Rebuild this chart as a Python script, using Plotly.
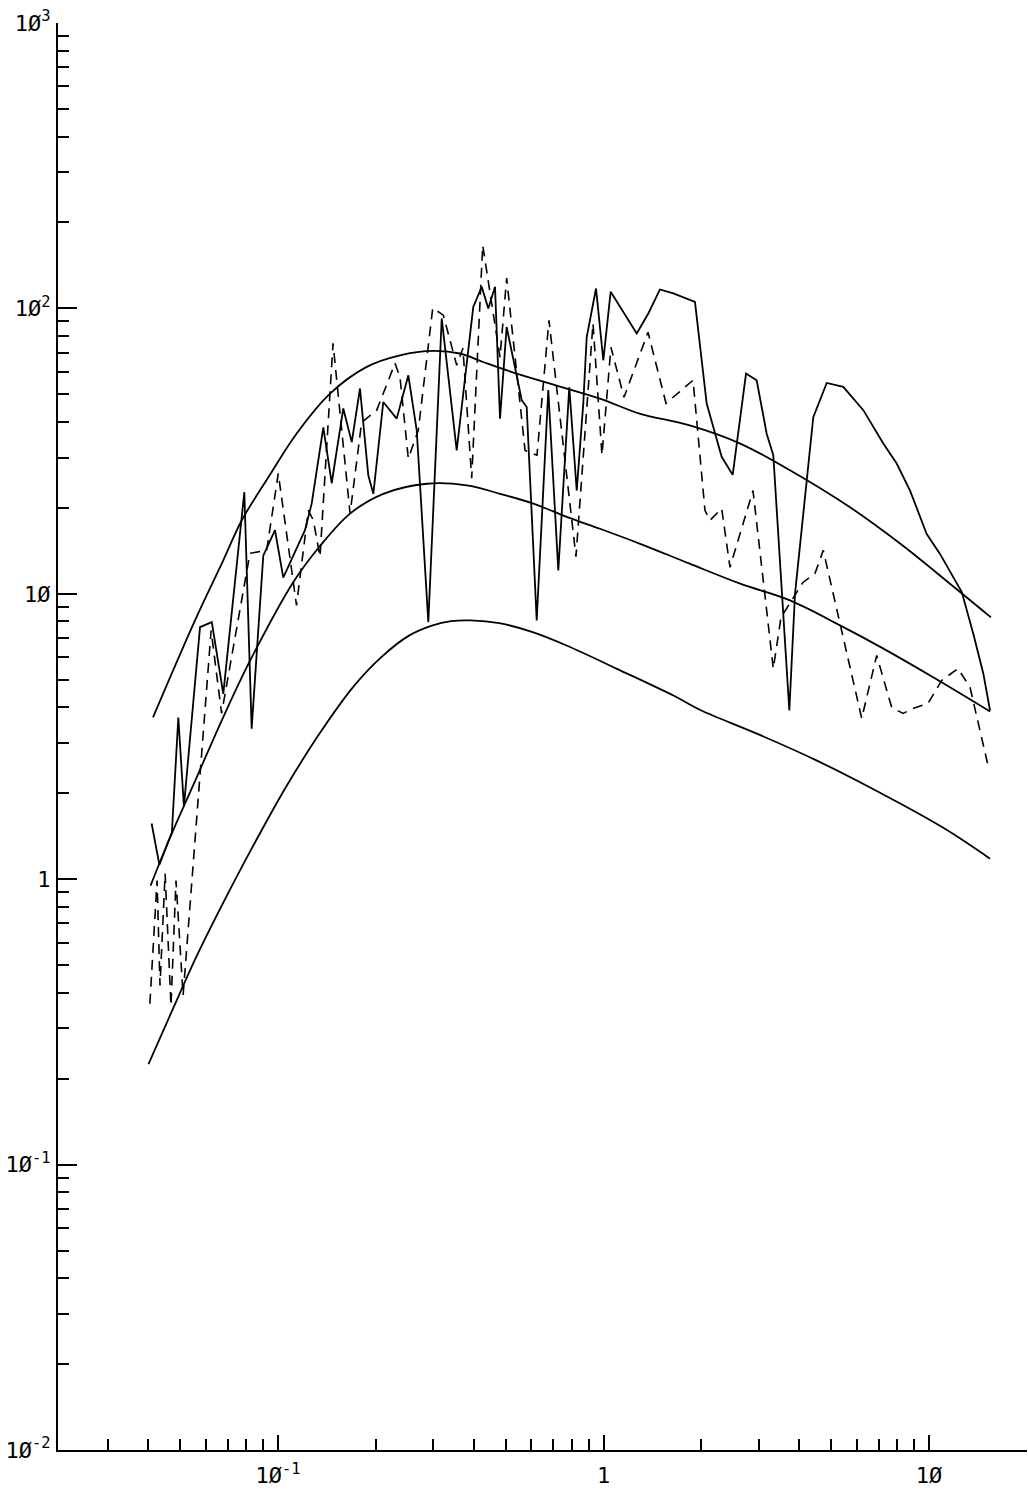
import plotly.graph_objects as go

# ---- smooth reference curves ----
upper_x = [0.0413, 0.0556, 0.0679, 0.0774, 0.0934, 0.114, 0.1445, 0.1873, 0.237, 0.300, 0.362, 0.427,
           0.541, 0.685, 0.975, 1.29, 1.84, 2.63, 3.74, 5.72, 8.15, 11.6, 15.5]
upper_y = [3.69, 8.07, 13.1, 18.1, 25.6, 36.4, 50.3, 62.4, 68.5, 71.0, 69.5, 64.9,
           59.1, 54.5, 48.3, 42.8, 38.9, 33.6, 27.1, 20.1, 15.0, 10.85, 8.27]

middle_x = [0.0406, 0.0466, 0.0563, 0.0679, 0.082, 0.1114, 0.1346, 0.1665, 0.2106, 0.286, 0.380, 0.481,
            0.609, 0.771, 0.975, 1.29, 1.84, 2.63, 3.74, 5.33, 7.22, 10.3, 15.4]
middle_y = [0.950, 1.40, 2.28, 3.70, 5.82, 10.98, 14.7, 19.1, 22.4, 24.3, 24.0, 22.4,
            20.7, 18.6, 16.9, 15.0, 12.75, 10.85, 9.48, 7.75, 6.44, 5.10, 3.87]

lower_x = [0.0400, 0.0478, 0.0560, 0.0684, 0.0833, 0.1057, 0.134, 0.170, 0.2077, 0.2533, 0.297, 0.340,
           0.392, 0.478, 0.606, 0.770, 1.10, 1.64, 2.0, 2.97, 4.41, 6.57, 11.0, 15.4]
lower_y = [0.225, 0.356, 0.532, 0.841, 1.29, 2.10, 3.23, 4.71, 6.0, 7.15, 7.74, 8.02,
           8.07, 7.89, 7.34, 6.59, 5.46, 4.40, 3.90, 3.23, 2.64, 2.10, 1.52, 1.18]

# ---- jagged solid spectrum ----
solid_x = [0.0409, 0.0432, 0.0472, 0.0494, 0.0514, 0.0576, 0.0626, 0.0679, 0.0788, 0.0830,
           0.0901, 0.0979, 0.1038, 0.121, 0.1269, 0.1378, 0.1462, 0.1587, 0.1685, 0.1786,
           0.1894, 0.1963, 0.2106, 0.2316, 0.2514, 0.2668, 0.2896, 0.3184, 0.354, 0.398,
           0.4225, 0.4427, 0.4642, 0.4809, 0.504, 0.5608, 0.5808, 0.6234, 0.6767, 0.7263,
           0.785, 0.8274, 0.8667, 0.888, 0.9485, 0.9986, 1.052, 1.265, 1.373, 1.491,
           1.639, 1.910, 2.075, 2.307, 2.494, 2.741, 2.955, 3.172, 3.324, 3.723,
           3.876, 4.411, 4.851, 5.454, 6.284, 7.238, 7.958, 8.744, 9.84, 10.81,
           12.61, 13.68, 14.69, 15.40]
solid_y = [1.567, 1.125, 1.457, 3.687, 1.797, 7.64, 7.96, 4.46, 22.7, 3.37,
           13.6, 16.7, 11.4, 16.7, 20.7, 38.3, 24.4, 44.6, 34.0, 52.4,
           26.0, 22.4, 47.0, 41.1, 58.3, 37.4, 7.96, 92.2, 31.8, 101.2,
           119.0, 99.9, 119.0, 41.1, 86.1, 47.7, 45.1, 8.07, 51.7, 12.08,
           52.9, 23.0, 46.4, 79.4, 117.4, 65.8, 114.3, 81.7, 96.0, 116.5,
           112.8, 105.4, 46.4, 30.2, 26.1, 59.1, 56.0, 36.4, 30.6, 3.90,
           10.0, 41.6, 54.8, 53.1, 44.0, 33.6, 28.6, 23.0, 16.2, 13.8,
           10.14, 7.25, 5.25, 3.90]

# ---- jagged dashed spectrum ----
dash_x = [0.0404, 0.0425, 0.0434, 0.0450, 0.0469, 0.0486, 0.0511, 0.0623, 0.0671, 0.082,
          0.0923, 0.1002, 0.114, 0.1239, 0.1284, 0.1346, 0.1476, 0.1665, 0.1807, 0.2011,
          0.2288, 0.237, 0.2514, 0.2698, 0.2988, 0.322, 0.354, 0.370, 0.3936, 0.4255,
          0.4809, 0.504, 0.5741, 0.6248, 0.680, 0.823, 0.9284, 0.9894, 1.054, 1.156,
          1.370, 1.556, 1.884, 2.050, 2.124, 2.307, 2.447, 2.879, 3.324, 3.51,
          4.10, 4.465, 4.734, 6.213, 6.908, 7.68, 8.32, 8.93, 9.93, 10.94,
          12.28, 13.37, 15.21]
dash_y = [0.366, 0.989, 0.424, 1.046, 0.360, 0.989, 0.391, 7.44, 3.81, 13.86,
          14.2, 26.4, 9.11, 19.6, 18.1, 13.5, 75.5, 19.1, 39.9, 44.0,
          64.2, 57.4, 29.8, 37.4, 100.2, 94.7, 63.2, 72.5, 25.4, 166.5,
          67.4, 127.6, 31.8, 30.6, 90.9, 13.5, 88.7, 30.6, 73.1, 48.8,
          82.5, 46.5, 56.0, 19.6, 18.1, 19.9, 12.38, 23.0, 5.47, 8.27,
          10.96, 11.79, 14.2, 3.66, 6.08, 4.0, 3.81, 3.96, 4.13, 4.97,
          5.47, 4.70, 2.48]

# ---- axis ticks ----
x_major_vals = [0.1, 1, 10]
x_major_text = ["1Ø<sup>-1</sup>", "1", "1Ø"]
x_minor_vals = [0.03, 0.04, 0.05, 0.06, 0.07, 0.08, 0.09, 0.2, 0.3, 0.4, 0.5, 0.6, 0.7, 0.8, 0.9,
                2, 3, 4, 5, 6, 7, 8, 9, 20]

y_major_vals = [0.01, 0.1, 1, 10, 100, 1000]
y_major_text = ["1Ø<sup>-2</sup>", "1Ø<sup>-1</sup>", "1", "1Ø", "1Ø<sup>2</sup>", "1Ø<sup>3</sup>"]
y_minor_vals = [m * d for d in [0.01, 0.1, 1, 10, 100] for m in [2, 3, 4, 5, 6, 7, 8, 9]]

line_style = dict(color="black", width=1.8)

fig = go.Figure()
for xs, ys in [(upper_x, upper_y), (middle_x, middle_y), (lower_x, lower_y)]:
    fig.add_trace(go.Scatter(x=xs, y=ys, mode="lines",
                             line=dict(line_style, shape="spline", smoothing=1.0)))
fig.add_trace(go.Scatter(x=solid_x, y=solid_y, mode="lines", line=line_style))
fig.add_trace(go.Scatter(x=dash_x, y=dash_y, mode="lines",
                         line=dict(color="black", width=1.6, dash="10px,7px")))

tick_font = dict(family="DejaVu Sans Mono", size=22, color="black")

fig.update_layout(
    width=1028, height=1491,
    margin=dict(l=58, r=1, t=23, b=41),
    paper_bgcolor="white", plot_bgcolor="white",
    showlegend=False,
    xaxis=dict(
        type="log", range=[-1.6759, 1.3011], autorange=False,
        showline=True, linecolor="black", linewidth=2, mirror=False,
        showgrid=False, zeroline=False,
        ticks="inside", ticklen=15, tickwidth=1.5, tickcolor="black",
        tickmode="array", tickvals=x_major_vals, ticktext=x_major_text,
        minor=dict(tickmode="array", tickvals=x_minor_vals, ticks="inside",
                   ticklen=11, tickwidth=1.5, tickcolor="black", showgrid=False),
        tickfont=tick_font, ticklabelstandoff=5, automargin=False,
    ),
    yaxis=dict(
        type="log", range=[-2, 3], autorange=False,
        showline=True, linecolor="black", linewidth=2, mirror=False,
        showgrid=False, zeroline=False,
        ticks="inside", ticklen=19, tickwidth=1.5, tickcolor="black",
        tickmode="array", tickvals=y_major_vals, ticktext=y_major_text,
        minor=dict(tickmode="array", tickvals=y_minor_vals, ticks="inside",
                   ticklen=11, tickwidth=1.5, tickcolor="black", showgrid=False),
        tickfont=tick_font, ticklabelstandoff=1, automargin=False,
    ),
)

fig.write_html("out.html")
